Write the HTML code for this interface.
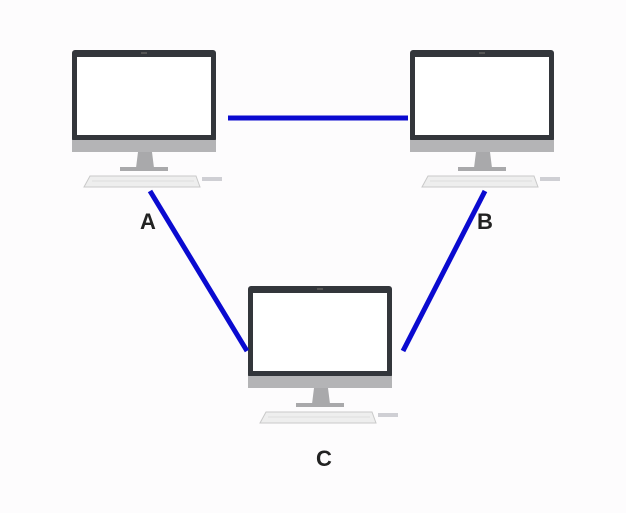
<!DOCTYPE html>
<html><head><style>html,body{margin:0;padding:0;background:#fdfcfd;}</style></head>
<body>
<svg width="626" height="508" viewBox="0 0 626 508" xmlns="http://www.w3.org/2000/svg">
<defs>
<g id="pc">
  <rect x="72" y="50" width="144" height="92" rx="3" fill="#33363b"/>
  <rect x="72" y="140" width="144" height="12" fill="#b4b4b6"/>
  <rect x="77" y="57" width="134" height="78" fill="#ffffff"/>
  <rect x="141" y="52" width="6" height="2" fill="#555"/>
  <polygon points="138,152 152,152 154,168 136,168" fill="#a9a9ab"/>
  <rect x="120" y="167" width="48" height="4" fill="#a9a9ab"/>
  <polygon points="90,176 196,176 200,187 84,187" fill="#eeeeee" stroke="#c9c9c9" stroke-width="1"/>
  <line x1="92" y1="181" x2="194" y2="181" stroke="#dedede" stroke-width="1"/>
  <rect x="202" y="177" width="20" height="4" fill="#cfcfd4"/>
</g>
</defs>
<use href="#pc"/>
<use href="#pc" transform="translate(338,0)"/>
<use href="#pc" transform="translate(176,236)"/>
<g stroke="#0a0ad0" stroke-width="5" stroke-linecap="butt">
  <line x1="228" y1="118" x2="408" y2="118"/>
  <line x1="150" y1="191" x2="247" y2="351"/>
  <line x1="485" y1="191" x2="403" y2="351"/>
</g>
<g font-family="Liberation Sans, sans-serif" font-weight="bold" font-size="22" fill="#222" text-anchor="middle">
  <text x="148" y="229">A</text>
  <text x="485" y="229">B</text>
  <text x="324" y="466">C</text>
</g>
</svg>
</body></html>
